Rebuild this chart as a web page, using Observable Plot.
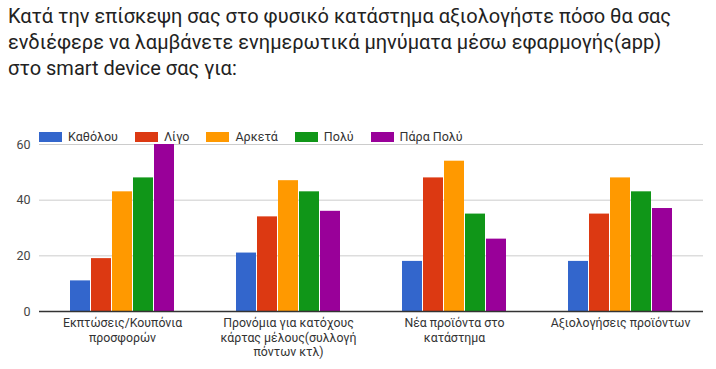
<!DOCTYPE html>
<html><head><meta charset="utf-8">
<script src="https://cdn.jsdelivr.net/npm/d3@7"></script>
<script src="https://cdn.jsdelivr.net/npm/@observablehq/plot@0.6"></script>
<style>
body{margin:0;background:#fff;font-family:Roboto,"Noto Sans",sans-serif;}
#wrap{position:relative;width:716px;height:369px;overflow:hidden;}
#title{position:absolute;left:8px;top:3px;font-size:20px;line-height:26px;color:#222;}
#legend{position:absolute;left:39px;top:129px;display:flex;font-size:12.5px;color:#333;}
#legend .it{display:flex;align-items:center;margin-right:17px;}
#legend .sw{width:23px;height:10px;margin-right:6px;}
#chart{position:absolute;left:0;top:100px;}
</style></head>
<body><div id="wrap">
<div id="title">Κατά την επίσκεψη σας στο φυσικό κατάστημα αξιολογήστε πόσο θα σας<br>ενδιέφερε να λαμβάνετε ενημερωτικά μηνύματα μέσω εφαρμογής(app)<br>στο smart device σας για:</div>
<div id="chart"></div>
<div id="legend"></div>
</div>
<script>
const categories = ["Εκπτώσεις/Κουπόνια προσφορών", "Προνόμια για κατόχους κάρτας μέλους(συλλογή πόντων κτλ)", "Νέα προϊόντα στο κατάστημα", "Αξιολογήσεις προϊόντων"];
const categoryLabels = ["Εκπτώσεις/Κουπόνια\nπροσφορών", "Προνόμια για κατόχους\nκάρτας μέλους(συλλογή\nπόντων κτλ)", "Νέα προϊόντα στο\nκατάστημα", "Αξιολογήσεις προϊόντων"];
const series = ["Καθόλου", "Λίγο", "Αρκετά", "Πολύ", "Πάρα Πολύ"];
const colors = ["#3366cc", "#dc3912", "#ff9900", "#109618", "#990099"];
const katholou = [11, 21, 18, 18];
const ligo = [19, 34, 48, 35];
const arketa = [43, 47, 54, 48];
const poly = [48, 43, 35, 43];
const paraPoly = [60, 36, 26, 37];
const yTicks = [0, 20, 40, 60];

const seriesValues = [katholou, ligo, arketa, poly, paraPoly];
const data = [];
categories.forEach((c, i) => series.forEach((s, j) => data.push({category: c, series: s, value: seriesValues[j][i]})));
const labelOf = new Map(categories.map((c, i) => [c, categoryLabels[i]]));

const chart = Plot.plot({
  width: 716,
  height: 269,
  marginTop: 44,
  marginBottom: 58,
  marginLeft: 38,
  marginRight: 12,
  style: {fontFamily: "Roboto, sans-serif", fontSize: "12px", color: "#222", background: "transparent"},
  fx: {domain: categories, padding: 0, label: null, axis: null},
  x: {domain: series, paddingInner: 0.05, paddingOuter: 1.45, axis: null},
  y: {domain: [0, 60], ticks: yTicks, label: null},
  color: {domain: series, range: colors},
  marks: [
    Plot.gridY(yTicks, {stroke: "#cccccc", strokeOpacity: 1}),
    Plot.axisY(yTicks, {tickSize: 0, tickPadding: 9, fill: "#444", fontSize: 12.5, label: null}),
    Plot.barY(data, {fx: "category", x: "series", y: "value", fill: "series"}),
    Plot.ruleY([0], {stroke: "#333", strokeWidth: 1.3}),
    Plot.axisFx({anchor: "bottom", tickSize: 0, tickPadding: 5, tickFormat: d => labelOf.get(d), fill: "#333", fontSize: 12.3, lineHeight: 1.2, label: null})
  ]
});
document.getElementById("chart").appendChild(chart);

const lg = document.getElementById("legend");
series.forEach((s, i) => {
  const it = document.createElement("div"); it.className = "it";
  const sw = document.createElement("div"); sw.className = "sw"; sw.style.background = colors[i];
  const t = document.createElement("span"); t.textContent = s;
  it.appendChild(sw); it.appendChild(t); lg.appendChild(it);
});
</script>
</body></html>
